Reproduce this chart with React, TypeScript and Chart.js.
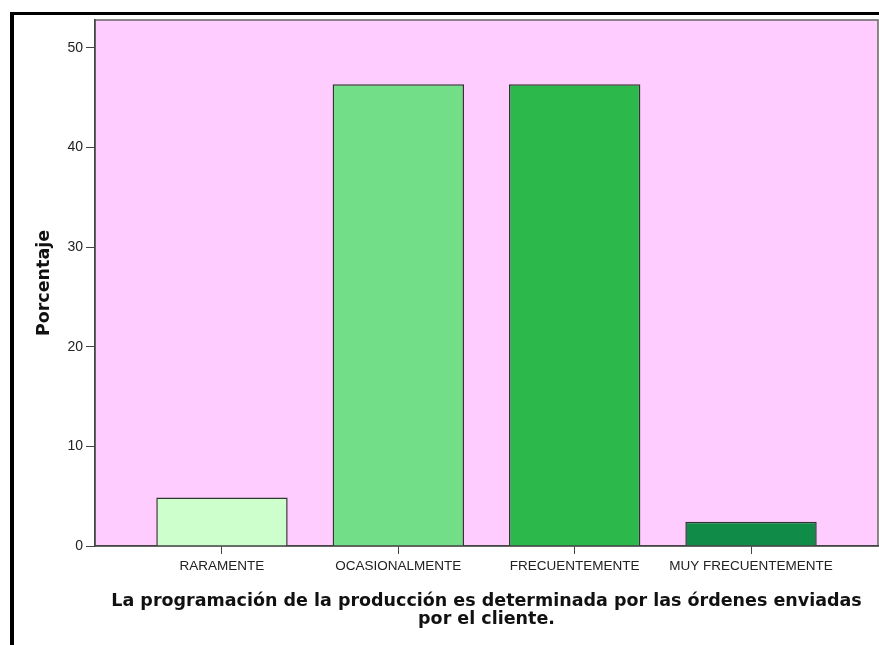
import React, { useEffect, useRef } from "react";
import { Chart, registerables } from "chart.js";

Chart.register(...registerables);

const categories = ["RARAMENTE", "OCASIONALMENTE", "FRECUENTEMENTE", "MUY FRECUENTEMENTE"];
const positions = [1, 2, 3, 4];
const percentages = [4.88, 46.34, 46.34, 2.44];
const barColors = ["#CCFFCC", "#72DF88", "#2DB84B", "#118C48"];
const yTicks = [0, 10, 20, 30, 40, 50];
const yTitle = "Porcentaje";
const xTitle = ["La programación de la producción es determinada por las órdenes enviadas", "por el cliente."];

const plotBg = {
  id: "plotBg",
  beforeDraw(chart: any) {
    const { ctx, chartArea } = chart;
    ctx.save();
    ctx.fillStyle = "#FFCCFF";
    ctx.fillRect(chartArea.left, chartArea.top, chartArea.right - chartArea.left, chartArea.bottom - chartArea.top);
    ctx.strokeStyle = "#666";
    ctx.lineWidth = 1.5;
    ctx.strokeRect(chartArea.left, chartArea.top, chartArea.right - chartArea.left, chartArea.bottom - chartArea.top);
    ctx.restore();
  },
};

export default function App() {
  const ref = useRef<HTMLCanvasElement>(null);
  useEffect(() => {
    if (!ref.current) return;
    const chart = new Chart(ref.current, {
      type: "bar",
      data: {
        datasets: [
          {
            data: positions.map((p, i) => ({ x: p, y: percentages[i] })),
            backgroundColor: barColors,
            borderColor: "#333",
            borderWidth: 1.5,
            categoryPercentage: 1,
            barPercentage: 0.745,
          },
        ],
      },
      options: {
        responsive: false,
        animation: false,
        devicePixelRatio: 1,
        layout: { padding: { top: 20, right: 1, left: 0, bottom: 0 } },
        plugins: { legend: { display: false }, tooltip: { enabled: false } },
        scales: {
          x: {
            type: "linear",
            min: 0.28,
            max: 4.72,
            offset: false,
            afterFit: (s: any) => { s.height = 99; },
            afterBuildTicks: (s: any) => { s.ticks = positions.map((v) => ({ value: v })); },
            grid: { offset: false, drawOnChartArea: false, tickLength: 8, color: "#444" },
            border: { color: "#444", width: 1.5 },
            ticks: {
              padding: 4,
              maxRotation: 0,
              autoSkip: false,
              color: "#222",
              font: { family: "'Liberation Sans', Arial, sans-serif", size: 13.5 },
              callback: (v: any) => categories[positions.indexOf(Number(v))] ?? "",
            },
            title: {
              display: true,
              text: xTitle,
              color: "#111",
              font: { family: "'DejaVu Sans', sans-serif", size: 17.5, weight: "bold", lineHeight: "18px" },
              padding: { top: 0, bottom: 17 },
            },
          },
          y: {
            min: 0,
            max: 52.8,
            afterFit: (s: any) => { s.width = 95; },
            afterBuildTicks: (s: any) => { s.ticks = yTicks.map((v) => ({ value: v })); },
            grid: { drawOnChartArea: false, tickLength: 9, color: "#444" },
            border: { color: "#444", width: 1.5 },
            ticks: {
              padding: 3,
              color: "#222",
              font: { family: "'Liberation Sans', Arial, sans-serif", size: 14 },
            },
            title: {
              display: true,
              text: yTitle,
              color: "#111",
              font: { family: "'DejaVu Sans', sans-serif", size: 17.5, weight: "bold", lineHeight: "21px" },
              padding: { top: 33.5, bottom: 0 },
            },
          },
        },
      },
      plugins: [plotBg],
    });
    return () => chart.destroy();
  }, []);

  return (
    <div style={{ position: "absolute", left: 0, top: 0, width: 879, height: 645, background: "#fff", overflow: "hidden" }}>
      <canvas ref={ref} width={879} height={645} style={{ position: "absolute", left: 0, top: 0 }} />
      <div style={{ position: "absolute", left: 10, top: 12, width: 869, height: 3, background: "#000" }} />
      <div style={{ position: "absolute", left: 10, top: 12, width: 4, height: 633, background: "#000" }} />
    </div>
  );
}
